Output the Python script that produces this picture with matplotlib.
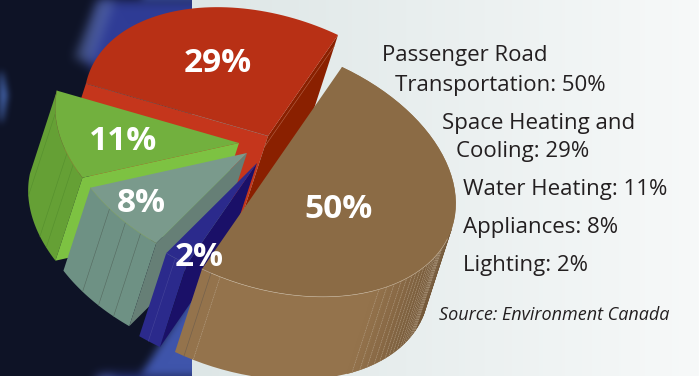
"""Residential/transport energy share as an exploded, tilted pie with thick walls."""
import matplotlib
matplotlib.use("Agg")
import matplotlib.pyplot as plt
import numpy as np
from matplotlib.colors import to_rgb
from matplotlib.patches import Polygon
from matplotlib.path import Path

WIDTH, HEIGHT = 699, 376

# clockwise from the upper right edge of the largest slice
shares = [50, 2, 8, 11, 29]
legend_lines = [
    "Passenger Road",
    "Transportation: 50%",
    "Space Heating and",
    "Cooling: 29%",
    "Water Heating: 11%",
    "Appliances: 8%",
    "Lighting: 2%",
]
source_note = "Source: Environment Canada"

# apex of every slice once pulled out of the pie
apexes = [(272, 168), (257, 163), (247, 153), (239, 143), (268, 136)]
label_pos = [(339, 210), (199, 258), (141, 203), (123, 141), (218, 64)]
top_colors = ["#8b6b45", "#2b2a8c", "#7a9a8c", "#72b03e", "#b83015"]
wall_colors = ["#94734c", "#2b2a8c", "#6e9184", "#65a035", "#b83015"]
cut_colors = ["#8b6b45", "#1a1068", "#667f76", "#7dc242", "#c5361c"]
seam_colors = ["#b8a58c", "#45459a", "#55695f", "#558f2e", "#8a5a50"]
rim_colors = ["#c9b79f", "#45459a", "#7f9a70", "#7a8f38", "#b83015"]
wall_seams = [
    [174] + [122, 119, 116, 113, 110.5, 108, 106, 104, 102, 100, 98.5, 97, 95.5, 94, 93, 92, 91, 90],
    [184],
    [206, 199, 193],
    [245, 227, 222],
    [],
]
# the part of each rim that gets a thin outline
rim_spans = [(85, 180), (180, 187.2), (187.2, 216), (216, 255.6), None]

# tilt of the disc: unit circle mapped on these two screen vectors, then extruded
AXIS_U = np.array([70.0, -101.0])
AXIS_V = np.array([170.0, 80.0])
DEPTH = np.array([-27.0, 83.0])


def rim(apex, t1, t2, n=60):
    t = np.radians(np.linspace(t1, t2, n))
    return np.asarray(apex) + np.outer(np.cos(t), AXIS_U) + np.outer(np.sin(t), AXIS_V)


def blurred_mask(points, passes=10, size=3):
    yy, xx = np.mgrid[0:HEIGHT, 0:WIDTH]
    grid = np.column_stack([xx.ravel() + 0.5, yy.ravel() + 0.5])
    mask = Path(points).contains_points(grid).reshape(HEIGHT, WIDTH).astype(float)
    for _ in range(passes):
        for axis in (0, 1):
            mask = sum(np.roll(mask, k, axis=axis) for k in range(-size, size + 1)) / (2 * size + 1)
    return mask


def backdrop():
    img = np.zeros((HEIGHT, WIDTH, 3))
    img[:] = np.array([14, 19, 38]) / 255
    glows = [
        ([(84, 55), (112, -40), (260, -40), (260, 90), (110, 90)], "#2f3c96", 1.0, 8),
        ([(74, 58), (106, -20), (122, -20), (92, 64)], "#6378b0", 0.5, 6),
        ([(-30, 66), (2, 72), (7, 95), (2, 122), (-30, 130)], "#5178cc", 0.95, 3),
        ([(125, 400), (195, 290), (260, 270), (260, 400)], "#3f55ab", 1.0, 4),
    ]
    for points, color, strength, passes in glows:
        m = blurred_mask(points, passes)[..., None] * strength
        img = img * (1 - m) + np.array(to_rgb(color)) * m
    # pale panel behind the pie and the text
    ramp = np.linspace(0, 1, WIDTH - 192)[:, None]
    left = np.array([221, 230, 230]) / 255
    right = np.array([247, 249, 249]) / 255
    img[:, 192:] = left * (1 - ramp) + right * ramp
    return img


def shade_turning_wall(ax, apex, zorder):
    # wall darkens as it turns away on the right of the big slice
    light = np.array(to_rgb("#94734c"))
    dark = np.array(to_rgb("#75593a"))
    steps = np.arange(80, 126, 2.0)
    for a, b in zip(steps[:-1], steps[1:]):
        seg = rim(apex, a, b, 4)
        mix = min(1.0, (125 - b) / 30)
        color = light * (1 - mix) + dark * mix
        ax.add_patch(Polygon(np.vstack([seg, (seg + DEPTH)[::-1]]), fc=color, ec=color,
                             lw=0.3, zorder=zorder))


fig = plt.figure(figsize=(WIDTH / 100, HEIGHT / 100), dpi=100)
ax = fig.add_axes([0, 0, 1, 1])
ax.imshow(backdrop(), extent=(0, WIDTH, HEIGHT, 0), aspect="auto", zorder=0)

# slices are painted back to front
start_angles = np.concatenate([[0], np.cumsum(shares)[:-1]]) * 3.6
end_angles = np.cumsum(shares) * 3.6
z = 1
for idx in [4, 3, 2, 1, 0]:
    t1, t2 = start_angles[idx], end_angles[idx]
    apex = np.array(apexes[idx], dtype=float)
    edge = rim(apex, t1, t2)

    if idx == 4:
        # back slice shows both cut faces, its curved wall stays hidden
        far = edge[0]
        quad = [apex, far, far + DEPTH, apex + DEPTH]
        ax.add_patch(Polygon(quad, fc=cut_colors[idx], ec="none", zorder=z))
        near = edge[-1]
        quad = [apex, near, near + DEPTH, apex + DEPTH]
        ax.add_patch(Polygon(quad, fc="#8a2000", ec="none", zorder=z))
        line = np.array([apex + 0.13 * DEPTH, near + 0.13 * DEPTH])
        ax.plot(line[:, 0], line[:, 1], color="#b5654a", lw=0.4, zorder=z + 0.5)
    else:
        wall = np.vstack([edge, (edge + DEPTH)[::-1]])
        ax.add_patch(Polygon(wall, fc=wall_colors[idx], ec="none", zorder=z))
        if idx == 0:
            shade_turning_wall(ax, apex, z + 0.1)
        for seam in wall_seams[idx]:
            p = rim(apex, seam, seam, 1)[0]
            ax.plot([p[0], p[0] + DEPTH[0]], [p[1], p[1] + DEPTH[1]], color=seam_colors[idx],
                    lw=0.4, ls=(0, (2, 1.2)) if idx == 0 else "-", zorder=z + 0.2)
        if idx == 0:
            # darker line where the wall meets the cut edge
            p = rim(apex, 177, 177, 1)[0]
            ax.plot([p[0], p[0] + DEPTH[0]], [p[1], p[1] + DEPTH[1]], color="#75624c",
                    lw=0.5, zorder=z + 0.2)
        else:
            near = edge[0]
            quad = [apex, near, near + DEPTH, apex + DEPTH]
            ax.add_patch(Polygon(quad, fc=cut_colors[idx], ec="none", zorder=z + 0.1))

    top = np.vstack([apex, edge])
    ax.add_patch(Polygon(top, fc=top_colors[idx], ec="none", zorder=z + 0.3))
    if rim_spans[idx] is not None:
        line = rim(apex, *rim_spans[idx])
        ax.plot(line[:, 0], line[:, 1], color=rim_colors[idx], lw=0.4, zorder=z + 0.4)
    if idx == 4:
        ax.plot([apex[0], edge[0][0]], [apex[1], edge[0][1]], color="#8a5a50", lw=0.4,
                ls=(0, (5, 1)), zorder=z + 0.4)
    z += 1

for share, (x, y) in zip(shares, label_pos):
    ax.text(x, y, f"{share}%", color="white", fontsize=24, fontweight="bold",
            family="Open Sans", ha="center", va="center", zorder=20)

legend_xy = [(382, 56), (395, 85), (442, 123), (456, 152), (463, 190), (463, 227), (463, 265)]
for text, (x, y) in zip(legend_lines, legend_xy):
    ax.text(x, y, text, color="#231f20", fontsize=16, family="Open Sans",
            ha="left", va="center", zorder=20)
ax.text(439, 315, source_note, color="#231f20", fontsize=13, style="italic",
        family="Open Sans", ha="left", va="center", zorder=20)

ax.set_xlim(0, WIDTH)
ax.set_ylim(HEIGHT, 0)
ax.axis("off")
fig.savefig("out.png", dpi=100)
